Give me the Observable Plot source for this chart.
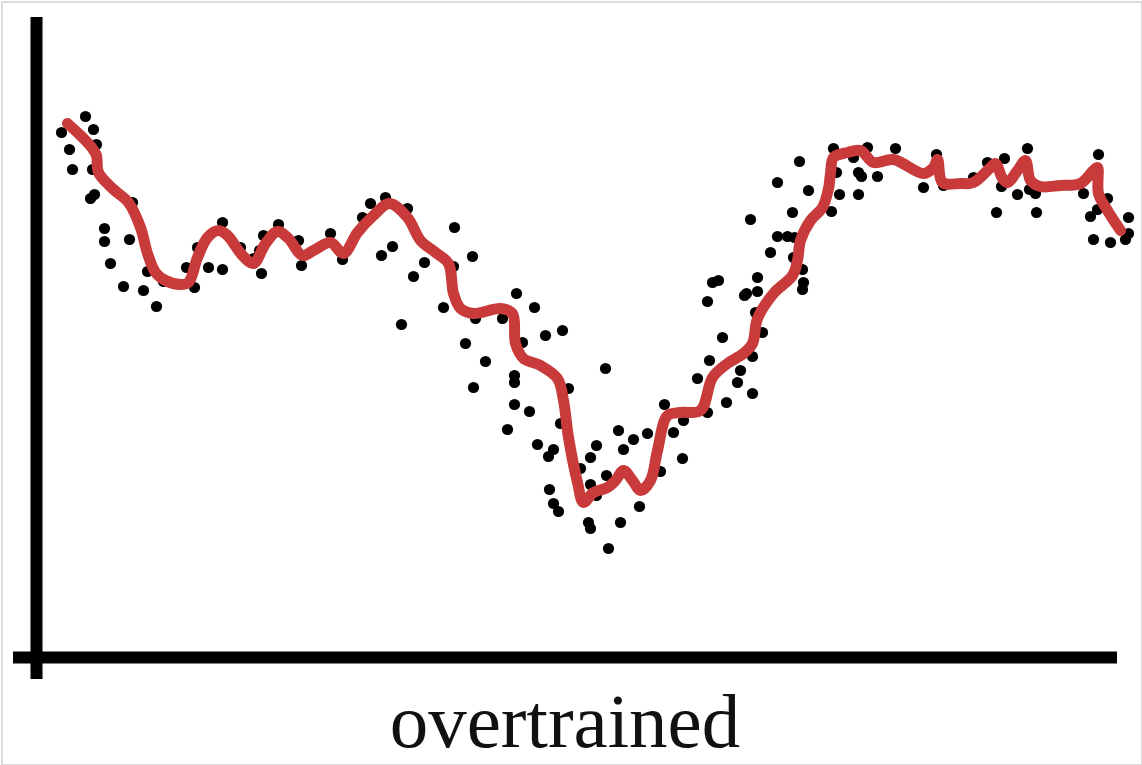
<!DOCTYPE html>
<html>
<head>
<meta charset="utf-8">
<script src="https://cdn.jsdelivr.net/npm/d3@7"></script>
<script src="https://cdn.jsdelivr.net/npm/@observablehq/plot@0.6"></script>
<style>
  html, body { margin: 0; padding: 0; background: #fff; }
  #wrap { position: relative; width: 1142px; height: 765px; overflow: hidden; }
  #frame { position: absolute; left: 1px; top: 1px; width: 1138px; height: 761px; border: 2px solid #dcdcdc; box-sizing: content-box; pointer-events: none; }
  #chart { position: absolute; left: 0; top: 0; }
  #label { position: absolute; left: 0; width: 1130px; top: 683px; text-align: center;
           font-family: "Liberation Serif", serif; font-size: 77px; line-height: 77px; color: #111; }
</style>
</head>
<body>
<div id="wrap">
  <div id="chart"></div>
  <div id="label">overtrained</div>
  <div id="frame"></div>
</div>
<script>
// Scatter points (training samples)
const dotX = [2.5,4.9,5.7,3.3,6.0,3.6,5.6,5.4,5.8,6.8,6.8,9.3,9.6,7.4,8.7,10.7,12.0,11.1,12.7,15.0,15.8,16.1,17.2,18.6,18.6,20.4,21.7,22.5,22.7,22.3,24.2,26.2,26.5,29.4,30.6,32.6,33.4,34.9,37.1,34.5,35.6,37.7,36.5,38.8,41.8,43.6,41.7,40.7,48.0,49.8,43.9,46.6,42.9,48.6,50.9,52.6,44.9,47.8,47.8,43.7,53.2,47.8,49.3,47.1,56.9,66.1,52.4,50.1,51.2,51.7,51.3,51.7,52.2,54.4,55.4,56.0,55.4,56.0,57.0,58.2,58.7,59.7,61.1,62.4,62.8,63.7,64.7,64.6,60.3,58.4,55.2,55.4,57.2,79.7,83.1,85.9,90.0,99.1,106.2,76.3,74.1,77.2,81.7,82.2,82.5,80.0,84.1,80.3,82.2,88.7,90.7,95.1,96.8,93.7,96.5,98.1,99.3,99.9,96.0,100.0,104.7,107.1,105.4,106.1,109.2,105.7,107.4,108.9,109.2,79.5,75.6,71.4,74.1,75.1,75.8,73.4,75.7,76.6,76.7,76.6,67.6,68.2,67.1,70.8,71.0,72.1,72.1,71.9,72.6,68.6,67.3,71.6,70.4,70.1,71.6,69.0,67.1];
const dotY = [52.5,54.1,52.8,50.8,51.3,48.8,48.8,45.9,46.3,42.9,41.6,41.8,45.5,39.4,37.1,36.7,35.1,38.6,37.6,39.0,37.0,41.0,39.0,38.8,43.5,41.0,39.9,38.4,42.2,40.7,43.3,41.7,39.2,42.4,39.8,44.0,45.4,46.0,44.9,40.2,41.1,38.1,33.3,39.5,43.0,40.1,39.1,35.0,36.4,35.0,33.9,33.9,31.4,31.5,32.2,32.7,29.6,28.2,27.5,27.0,26.9,25.3,24.6,22.8,28.9,27.9,23.4,21.3,20.1,20.8,16.8,15.4,14.6,18.9,20.0,21.2,17.3,16.2,18.2,22.7,20.8,21.8,22.4,18.6,25.3,22.5,23.7,19.9,15.1,13.5,13.5,12.9,10.9,50.9,51.0,50.9,50.3,50.9,50.3,49.6,47.5,46.7,50.0,48.5,48.1,48.5,48.1,46.3,46.3,47.0,47.2,49.5,49.9,48.0,47.1,46.3,46.8,46.4,44.5,44.5,46.4,45.9,44.1,44.8,44.0,41.8,41.5,41.8,42.4,44.6,44.5,43.8,42.1,42.1,42.0,40.5,40.0,38.8,37.5,36.8,37.5,37.7,35.6,36.2,36.4,38.0,36.6,34.5,32.5,32.0,29.7,30.1,28.7,27.5,26.4,25.5,24.5];

// Overfitted model curve
const fitX = [3.1,4.4,5.6,6.0,6.2,7.6,9.2,10.4,11.1,11.9,12.9,14.4,15.2,16.1,17.1,18.2,19.1,20.6,21.7,22.9,24.1,25.2,26.6,27.7,29.4,30.7,32.1,33.7,35.3,37.1,38.4,39.9,41.2,41.7,42.4,43.7,46.4,47.6,47.9,48.7,50.4,52.1,52.7,53.2,54.1,54.7,55.7,57.1,57.9,58.7,59.6,60.4,61.4,62.1,63.1,64.4,66.4,67.6,69.1,70.7,71.6,72.1,73.7,75.6,76.1,76.4,77.4,78.6,79.2,79.4,79.7,81.1,82.4,83.7,85.7,88.7,89.7,90.1,90.6,92.4,93.7,95.4,95.9,96.6,97.1,98.1,98.9,99.4,100.4,102.4,104.4,105.7,106.1,106.2,107.1,108.4];
const fitY = [53.4,52.2,50.9,50.2,48.5,46.9,45.5,43.0,40.4,38.5,37.7,37.3,37.5,40.0,42.0,42.7,42.2,40.2,39.4,41.4,42.6,41.9,40.2,40.7,41.5,40.4,42.5,44.2,45.4,44.0,41.7,40.5,39.4,36.4,34.9,34.4,34.9,34.4,31.4,29.9,29.2,27.9,25.7,22.0,17.5,15.5,16.5,17.0,17.7,18.7,17.7,16.7,17.7,20.7,24.2,24.5,24.7,28.0,29.4,30.4,31.4,33.9,36.4,38.2,39.7,41.7,43.7,45.0,46.9,48.4,50.0,50.5,50.7,49.5,49.8,48.4,49.0,49.8,47.5,47.4,47.5,49.0,49.4,47.9,47.5,48.7,49.7,47.7,47.1,47.2,47.4,48.7,49.0,46.4,44.7,42.7];

// Axis extents (data units)
const yAxisSpan = [-2.2, 64.0];
const xAxisSpan = [-2.3, 108.1];

const dots = dotX.map((x, i) => ({x, y: dotY[i]}));
const fit = fitX.map((x, i) => ({x, y: fitY[i]}));

const chart = Plot.plot({
  width: 1142,
  height: 690,
  marginLeft: 0, marginRight: 0, marginTop: 0, marginBottom: 0,
  x: {domain: [-3.6, 110.6], axis: null},
  y: {domain: [-3.3, 65.7], axis: null},
  marks: [
    Plot.ruleX([0], {y1: yAxisSpan[0], y2: yAxisSpan[1], stroke: "#000", strokeWidth: 12}),
    Plot.ruleY([0], {x1: xAxisSpan[0], x2: xAxisSpan[1], stroke: "#000", strokeWidth: 12}),
    Plot.dot(dots, {x: "x", y: "y", r: 5.6, fill: "#000", stroke: "none"}),
    Plot.line(fit, {x: "x", y: "y", stroke: "#c93b3b", strokeWidth: 11, curve: "catmull-rom", strokeLinejoin: "round", strokeLinecap: "round"})
  ]
});
document.getElementById("chart").appendChild(chart);
</script>
</body>
</html>
